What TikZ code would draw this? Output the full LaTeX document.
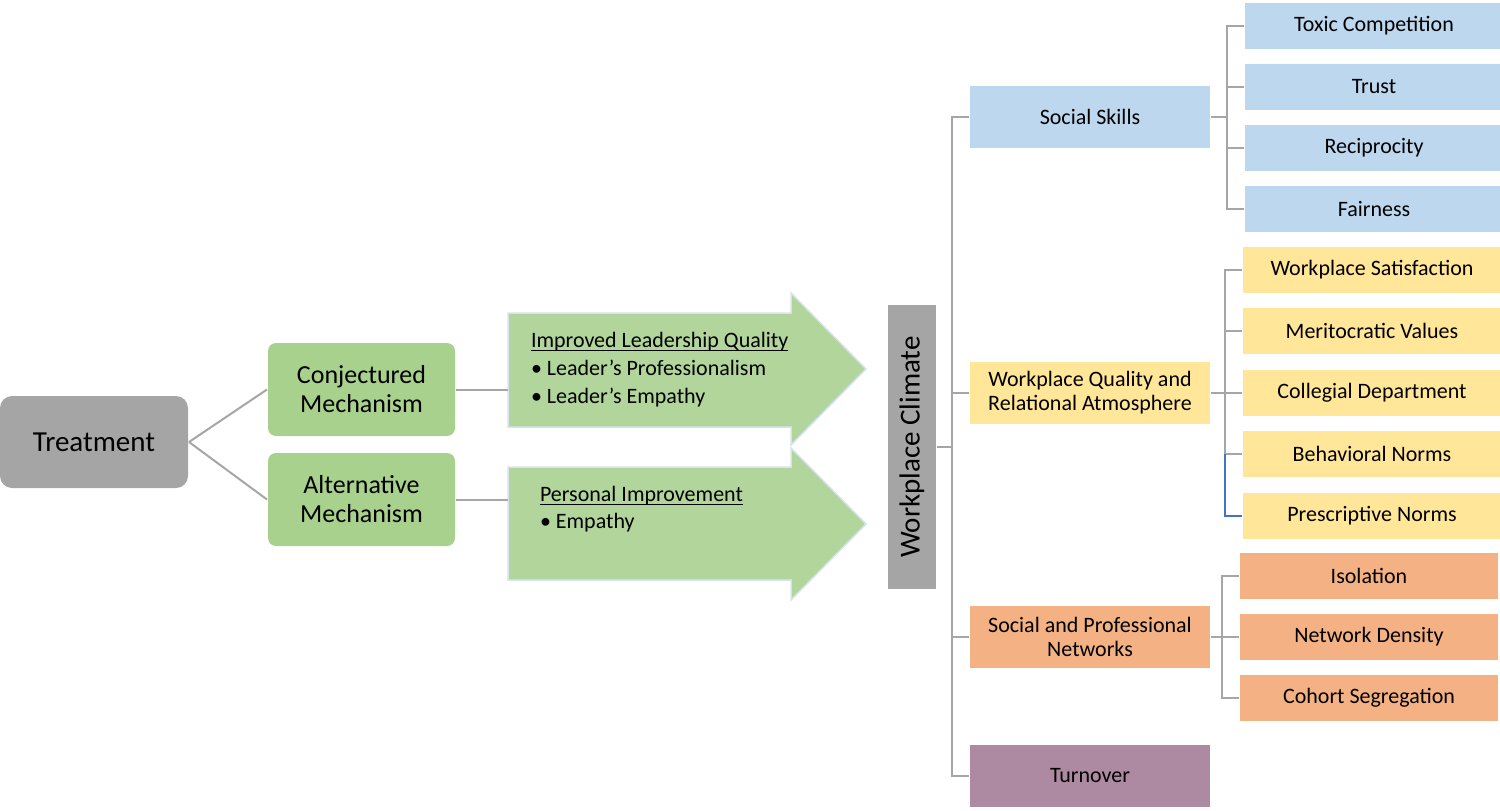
\documentclass[tikz,border=0pt]{standalone}
\usepackage{fontspec}
\setmainfont{Carlito}
\usetikzlibrary{positioning}
\newcommand\ulined[1]{\leavevmode\setbox0\hbox{#1}\rlap{\rule[-1.7pt]{\wd0}{0.6pt}}\box0}
\definecolor{boxgray}{HTML}{A5A5A5}
\definecolor{linegray}{HTML}{A6A6A6}
\definecolor{mechgreen}{HTML}{A9D18E}
\definecolor{arrowgreen}{HTML}{B1D59B}
\definecolor{arrowedge}{HTML}{D6E2EF}
\definecolor{skyblue}{HTML}{BDD7EE}
\definecolor{sand}{HTML}{FFE699}
\definecolor{peach}{HTML}{F4B183}
\definecolor{mauve}{HTML}{AD89A2}
\definecolor{normblue}{HTML}{4472C4}

\begin{document}
\begin{tikzpicture}[x=0.5pt, y=-0.5pt, line width=1pt,
  base/.style = {rectangle, inner sep=0pt, align=center, font=\fontsize{11}{12}\selectfont},
  mech/.style = {base, rounded corners=4pt, fill=mechgreen, minimum width=93.5pt, minimum height=46.5pt, font=\fontsize{13}{14.5}\selectfont},
  lvl/.style = {base, anchor=west, minimum width=120pt, minimum height=31pt},
  leaf/.style = {base, anchor=west, minimum width=129pt, minimum height=23pt},
  big arrow/.style = {fill=arrowgreen, draw=arrowedge, line width=0.75pt}]
\useasboundingbox (0,0) rectangle (1500,810);
\node[base, fill=boxgray, rounded corners=6pt, minimum width=94pt, minimum height=46pt, font=\fontsize{14.5}{17}\selectfont] (treat) at (94,442) {Treatment};
\node[mech] (conj) at (361.5,389.5) {Conjectured\\Mechanism};
\node[mech] (alt) at (361.5,499.5) {Alternative\\Mechanism};
\draw[linegray] (treat.east) -- (conj.west);
\draw[linegray] (treat.east) -- (alt.west);

\filldraw[big arrow] (508,313) -- (791,313) -- (791,293) -- (866,369) -- (791,445) -- (791,427) -- (508,427) -- cycle;
\filldraw[big arrow] (508,467) -- (791,467) -- (791,448) -- (866,524) -- (791,600) -- (791,580) -- (508,580) -- cycle;
\coordinate (a1) at (508,393);
\coordinate (a2) at (508,501);
\node[base, anchor=west, align=left, font=\fontsize{11}{14}\selectfont] (lq) at (530,370) {\ulined{Improved Leadership Quality}\\\textbullet\ Leader’s Professionalism\\\textbullet\ Leader’s Empathy};
\node[base, anchor=west, align=left, font=\fontsize{11}{13.5}\selectfont] (pi) at (539,509.5) {\ulined{Personal Improvement}\\\textbullet\ Empathy};
\draw[linegray] (conj.east) -- (conj.east -| a1);
\draw[linegray] (alt.east) -- (alt.east -| a2);

\node[base, fill=boxgray, rotate=90, minimum width=142pt, minimum height=24pt, font=\fontsize{14.5}{17}\selectfont] (wc) at (912,447) {Workplace Climate};

\node[lvl, fill=skyblue] (ss) at (969,117) {Social Skills};
\node[lvl, fill=sand] (wq) at (969,393) {Workplace Quality and\\Relational Atmosphere};
\node[lvl, fill=peach] (spn) at (969,637) {Social and Professional\\Networks};
\node[lvl, fill=mauve] (turn) at (969,776) {Turnover};
\draw[linegray] (wc.south) -- ++(16,0);
\draw[linegray] (ss.west) -- ++(-17,0) |- (turn.west);
\draw[linegray] (wq.west) -- ++(-17,0);
\draw[linegray] (spn.west) -- ++(-17,0);

\node[leaf, fill=skyblue] (t1) at (1244,26) {Toxic Competition};
\node[leaf, fill=skyblue] (t2) at (1244,87) {Trust};
\node[leaf, fill=skyblue] (t3) at (1244,148) {Reciprocity};
\node[leaf, fill=skyblue] (t4) at (1244,209) {Fairness};
\draw[linegray] (t1.west) -- ++(-17,0) coordinate (sb) |- (t4.west);
\draw[linegray] (t2.west) -- (t2.west -| sb);
\draw[linegray] (t3.west) -- (t3.west -| sb);
\draw[linegray] (ss.east) -- (ss.east -| sb);

\node[leaf, fill=sand] (w1) at (1242,270) {Workplace Satisfaction};
\node[leaf, fill=sand] (w2) at (1242,331) {Meritocratic Values};
\node[leaf, fill=sand] (w3) at (1242,393) {Collegial Department};
\node[leaf, fill=sand] (w4) at (1242,454) {Behavioral Norms};
\node[leaf, fill=sand] (w5) at (1242,516) {Prescriptive Norms};
\draw[linegray] (w1.west) -- ++(-17,0) coordinate (wb) -- (wb |- w4.west) -- (w4.west);
\draw[normblue] (wb |- w4.west) |- (w5.west);
\draw[linegray] (w2.west) -- (w2.west -| wb);
\draw[linegray] (w3.west) -- (w3.west -| wb);
\draw[linegray] (wq.east) -- (wq.east -| wb);

\node[leaf, fill=peach] (n1) at (1239,576) {Isolation};
\node[leaf, fill=peach] (n2) at (1239,637) {Network Density};
\node[leaf, fill=peach] (n3) at (1239,698) {Cohort Segregation};
\draw[linegray] (n1.west) -- ++(-17,0) coordinate (nb) |- (n3.west);
\draw[linegray] (n2.west) -- (n2.west -| nb);
\draw[linegray] (spn.east) -- (spn.east -| nb);
\end{tikzpicture}
\end{document}
